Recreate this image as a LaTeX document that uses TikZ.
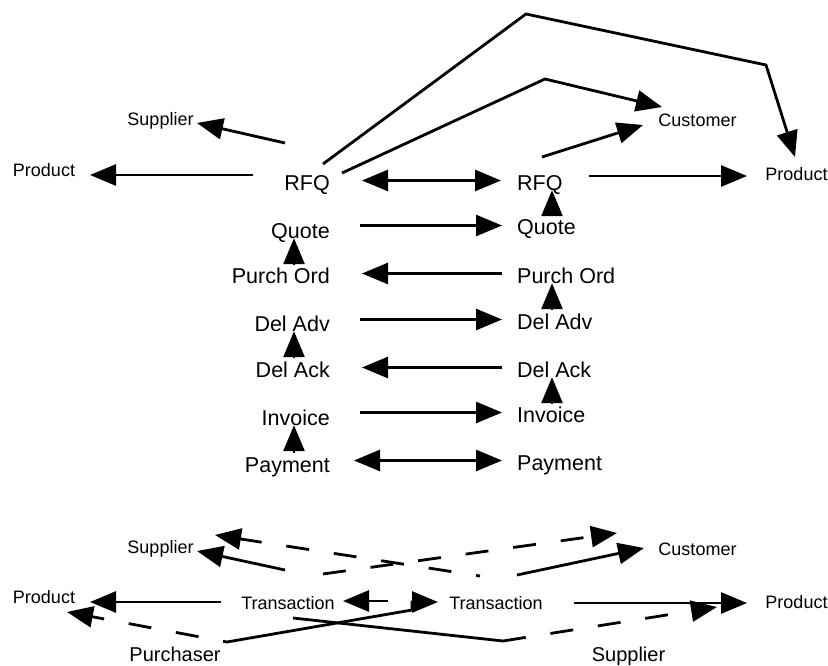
\documentclass[tikz,border=0pt]{standalone}
\usepackage{fontspec}
\setmainfont{Liberation Sans}
\usetikzlibrary{arrows.meta}

\tikzset{
	lbl/.style={font=\fontsize{18}{20}\selectfont, inner sep=0pt, anchor=base},
	party/.style={font=\fontsize{20}{22}\selectfont, inner sep=0pt, anchor=base},
	msg/.style={font=\fontsize{21.5}{24}\selectfont, inner sep=0pt, text height=19pt, text depth=0pt},
	wire/.style={line width=2.8pt},
	arr/.style={wire, -{Triangle[length=26pt,width=21pt]}},
	darr/.style={wire, {Triangle[length=26pt,width=21pt]}-{Triangle[length=26pt,width=21pt]}},
	dashwire/.style={wire, dash pattern=on 23pt off 25pt},
}

\begin{document}
\begin{tikzpicture}[x=1pt, y=-1pt]
		\useasboundingbox (0,0) rectangle (828,666);
		
		%%%%% START %%%%%
		
		% top: where the RFQ goes
		\node[lbl] (supT) at (160.5,126) {Supplier};
		\node[lbl] (prodTL) at (44,177) {Product};
		\node[lbl] (custT) at (697.5,127) {Customer};
		\node[lbl] (prodTR) at (796.5,181) {Product};
		
		% message columns
		\foreach \n/\txt/\yl/\yr in {rfq/RFQ/191/190, quote/Quote/238/235, po/Purch Ord/283/283, adv/Del Adv/331/329, ack/Del Ack/377/377, inv/Invoice/425/422, pay/Payment/472/470} {
			\node[msg, anchor=base east] (l\n) at (330,\yl) {\txt};
			\node[msg, anchor=base west] (r\n) at (517,\yr) {\txt};
		}
		
		\coordinate (rfqL-a) at (285,143);
		\coordinate (supT-in) at (197,123);
		\coordinate (rfqL-b) at (253,175);
		\coordinate (prodTL-in) at (90,175);
		\coordinate (rfqR-a) at (589,176);
		\coordinate (prodTR-in) at (747,176);
		\coordinate (rfqR-b) at (542,157);
		\coordinate (custT-in) at (643,125);
		\coordinate (rfqL-c) at (342,173);
		\coordinate (bendC) at (545,79);
		\coordinate (custT-in2) at (662,107);
		\coordinate (rfqL-d) at (323,164);
		\coordinate (bendP1) at (526,14);
		\coordinate (bendP2) at (766,65);
		\coordinate (prodTR-in2) at (795,157);
		
		\draw[arr] (rfqL-a) -- (supT-in);
		\draw[arr] (rfqL-b) -- (prodTL-in);
		\draw[arr] (rfqR-a) -- (prodTR-in);
		\draw[arr] (rfqR-b) -- (custT-in);
		\draw[arr] (rfqL-c) -- (bendC) -- (custT-in2);
		\draw[arr] (rfqL-d) -- (bendP1) -- (bendP2) -- (prodTR-in2);
		
		% between the columns
		\draw[darr, shorten <=32pt, shorten >=16pt] (lrfq.east |- rrfq.west) -- (rrfq.west);
		\foreach \n in {quote,adv,inv}
			\draw[arr, shorten <=30pt, shorten >=15pt] (l\n.east |- r\n.west) -- (r\n.west);
		\foreach \n in {po,ack}
			\draw[arr, shorten <=15pt, shorten >=32pt] (r\n.west) -- (l\n.east |- r\n.west);
		\draw[darr, shorten <=24pt, shorten >=15pt] (lpay.east |- rpay.west) -- (rpay.west);
		
		% up the columns
		\foreach \a/\b in {po/quote, ack/adv, pay/inv}
			\draw[arr] ([xshift=-36pt]l\a.north east) -- ([xshift=-36pt]l\b.south east);
		\foreach \a/\b in {quote/rfq, adv/po, inv/ack}
			\draw[arr] ([xshift=35pt]r\a.north west) -- ([xshift=35pt]r\b.south west);
		
		% bottom: the transaction
		\node[lbl] (supB) at (160.5,553) {Supplier};
		\node[lbl] (prodBL) at (44,603) {Product};
		\node[lbl] (tranL) at (288,609) {Transaction};
		\node[lbl] (tranR) at (496,609) {Transaction};
		\node[lbl] (custB) at (697.5,555) {Customer};
		\node[lbl] (prodBR) at (796.5,608) {Product};
		\node[party] (purch) at (175,661) {Purchaser};
		\node[party] (supR) at (628.5,661) {Supplier};
		
		\coordinate (tranL-a) at (285,570);
		\coordinate (supB-in) at (197,551);
		\coordinate (tranR-a) at (480,576);
		\coordinate (supB-in2) at (215,535);
		\coordinate (tranL-b) at (323,574);
		\coordinate (custB-in2) at (617,533);
		\coordinate (tranR-b) at (517,575);
		\coordinate (custB-in) at (644,548);
		\coordinate (tranL-c) at (221,602);
		\coordinate (prodBL-in) at (90,602);
		\coordinate (purch-a) at (227,642);
		\coordinate (prodBL-in2) at (67,612);
		\coordinate (bendT) at (412,610);
		\coordinate (tranR-in) at (438,602);
		\coordinate (tranR-c) at (388,601);
		\coordinate (tranL-in) at (343,601);
		\coordinate (tranL-d) at (293,618);
		\coordinate (supR-a) at (503,641);
		\coordinate (prodBR-in2) at (717,607);
		\coordinate (tranR-d) at (574,603);
		\coordinate (prodBR-in) at (747,603);
		
		\draw[arr] (tranL-a) -- (supB-in);
		\draw[arr, dashwire, dash phase=19pt] (tranR-a) -- (supB-in2);
		\draw[arr, dashwire] (tranL-b) -- (custB-in2);
		\draw[arr] (tranR-b) -- (custB-in);
		\draw[arr] (tranL-c) -- (prodBL-in);
		\draw[arr, dashwire, dash phase=19pt] (purch-a) -- (prodBL-in2);
		\draw[arr] (purch-a) -- (bendT) |- (tranR-in);
		\draw[arr] (tranR-c) -- (tranL-in);
		\draw[wire] (tranL-d) -- (supR-a);
		\draw[arr, dashwire] (supR-a) -- (prodBR-in2);
		\draw[arr] (tranR-d) -- (prodBR-in);
		
		%%%%% END %%%%%
\end{tikzpicture}
\end{document}
